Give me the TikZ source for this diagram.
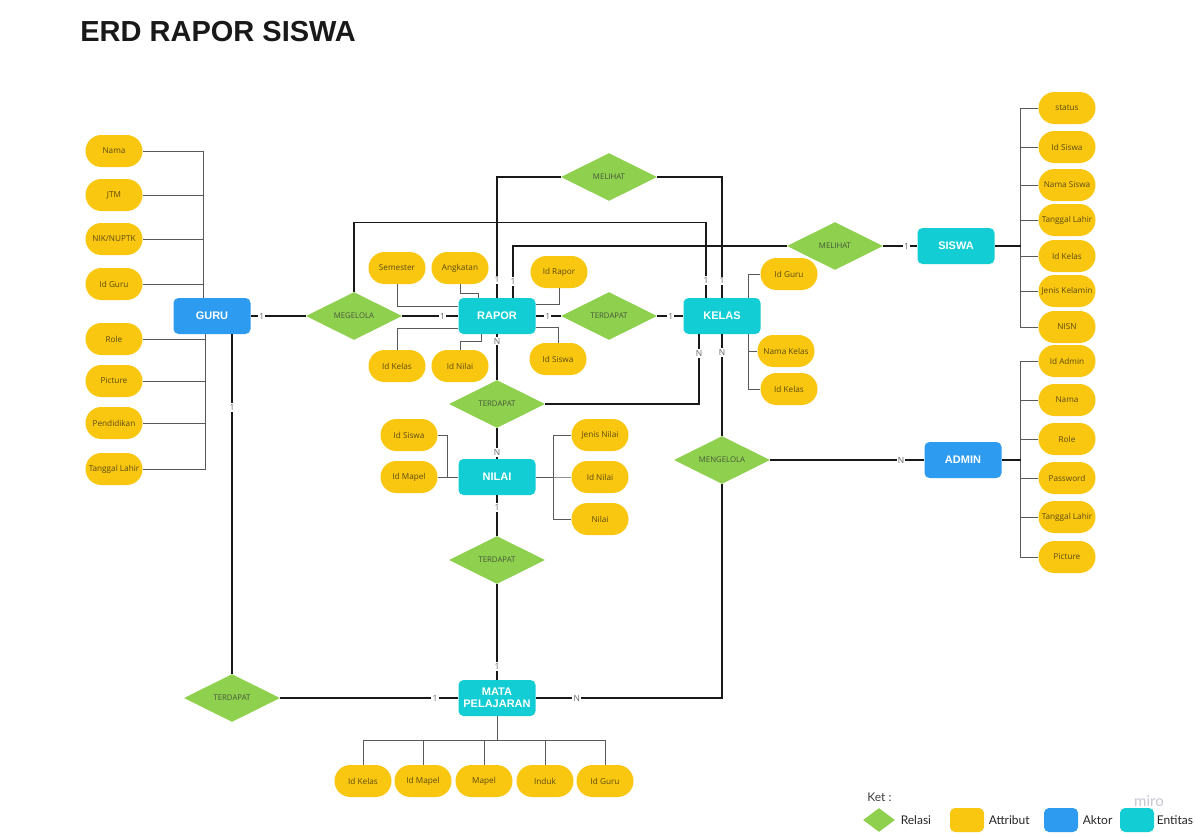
\documentclass[tikz,border=0pt]{standalone}
\usepackage{fontspec}
\setmainfont{Open Sans}
\newfontfamily\headfont{Liberation Sans}
\newfontfamily\legfont{Lato}
\usepackage{tikz}
\tikzset{every picture/.style={line width=0.75pt}}
\usetikzlibrary{shapes.geometric, positioning, calc}

\definecolor{attrYellow}{HTML}{FAC710}
\definecolor{relGreen}{HTML}{8FD14F}
\definecolor{actBlue}{HTML}{2D9BF0}
\definecolor{entCyan}{HTML}{12CDD4}
\definecolor{attrText}{HTML}{5A4A16}
\definecolor{relText}{HTML}{44573A}
\definecolor{miroGray}{HTML}{C9C5D3}

\begin{document}
\begin{tikzpicture}[
	x=1pt, y=-1pt,
	attr/.style={rectangle, rounded corners=15.9pt, fill=attrYellow, minimum width=57pt, minimum height=32pt, inner sep=0pt, text=attrText, font=\fontsize{8.2}{9}\selectfont},
	entity/.style={rectangle, rounded corners=5pt, fill=entCyan, minimum width=77pt, minimum height=36pt, inner sep=0pt, align=center, text=white, font=\headfont\bfseries\fontsize{11}{12}\selectfont},
	actor/.style={entity, fill=actBlue},
	rel/.style={diamond, shape aspect=2, fill=relGreen, minimum width=96pt, minimum height=48pt, inner sep=0pt, text=relText, font=\fontsize{7.8}{8}\selectfont},
	link/.style={draw=black!90, line width=1.6pt},
	attrline/.style={draw=black!65, line width=1pt},
	card/.style={fill=white, inner sep=1.2pt, text=black!60, font=\fontsize{8.5}{9}\selectfont},
	legbox/.style={rectangle, rounded corners=5pt, minimum width=34pt, minimum height=24pt, inner sep=0pt},
	legtext/.style={anchor=west, inner sep=0pt, text=black!85, font=\legfont\fontsize{12}{13}\selectfont}
	]
	
	\fill[white] (0,0) rectangle (1195,836);
	\useasboundingbox (0,0) rectangle (1195,836);
	
	% --- TITLE ---
	\node[anchor=west, inner sep=0pt, font=\headfont\bfseries\fontsize{29}{30}\selectfont, text=black!90] (title) at (80,32) {ERD RAPOR SISWA};
	
	% --- ENTITIES ---
	\node[actor] (guru) at (212,316) {GURU};
	\node[entity] (rapor) at (497,316) {RAPOR};
	\node[entity] (kelas) at (722,316) {KELAS};
	\node[entity] (siswa) at (956,246) {SISWA};
	\node[actor] (admin) at (963,460) {ADMIN};
	\node[entity] (nilai) at (497,477) {NILAI};
	\node[entity] (mapel) at (497,698) {MATA\\[0pt]PELAJARAN};
	
	% --- RELATIONS ---
	\node[rel] (melihatA) at (609,177) {MELIHAT};
	\node[rel] (melihatB) at (835,246) {MELIHAT};
	\node[rel] (megelola) at (354,316) {MEGELOLA};
	\node[rel] (terdapatA) at (609,316) {TERDAPAT};
	\node[rel] (terdapatB) at (497,404) {TERDAPAT};
	\node[rel] (terdapatC) at (497,560) {TERDAPAT};
	\node[rel] (terdapatD) at (232,698) {TERDAPAT};
	\node[rel] (mengelola) at (722,460) {MENGELOLA};
	
	% --- RELATION LINKS ---
	\draw[link] (guru) -- (megelola) node[card, pos=0.2] {1};
	\draw[link] (megelola) -- (rapor) node[card, pos=0.72] {1};
	\draw[link] (rapor) -- (terdapatA) node[card, pos=0.48] {1};
	\draw[link] (terdapatA) -- (kelas) node[card, pos=0.52] {1};
	\draw[link] (melihatA.west) -| (rapor.north) node[card, pos=0.926] {1};
	\draw[link] (melihatA.east) -| (kelas.north) node[card, pos=0.93] {1};
	\draw[link] (megelola.north) -- ++(0,-69) -| ([xshift=-16pt]kelas.north) node[card, pos=0.887] {1};
	\draw[link] ([xshift=16pt]rapor.north) |- (melihatB.west) node[card, pos=0.154] {1};
	\draw[link] (melihatB) -- (siswa) node[card, pos=0.69] {1};
	\draw[link] (rapor) -- (terdapatB) node[card, pos=0.15] {N};
	\draw[link] (terdapatB.east) -| ([xshift=-23pt]kelas.south) node[card, pos=0.864] {N};
	\draw[link] (terdapatB) -- (nilai) node[card, pos=0.8] {N};
	\draw[link] (nilai) -- (terdapatC) node[card, pos=0.3] {1};
	\draw[link] (terdapatC) -- (mapel) node[card, pos=0.86] {1};
	\draw[link] (terdapatD.north) -- (terdapatD.north |- guru.south) node[card, pos=0.785] {1};
	\draw[link] (terdapatD) -- (mapel) node[card, pos=0.87] {1};
	\draw[link] (mapel.east) -| (mengelola.south) node[card, pos=0.11] {N};
	\draw[link] (mengelola) -- (kelas) node[card, pos=0.82] {N};
	\draw[link] (mengelola) -- (admin) node[card, pos=0.85] {N};
	
	% --- GURU attributes ---
	\foreach \y/\t/\n in {151/Nama/gNama, 195/JTM/gJtm, 239/{NIK/NUPTK}/gNik, 284/Id Guru/gId} {
		\node[attr] (\n) at (114,\y) {\t};
		\draw[attrline] (\n.east) -| ([xshift=-9pt]guru.north);
	}
	\foreach \y/\t/\n in {339/Role/gRole, 381/Picture/gPic, 423/Pendidikan/gPend, 469/Tanggal Lahir/gTgl} {
		\node[attr] (\n) at (114,\y) {\t};
		\draw[attrline] (\n.east) -| ([xshift=-7pt]guru.south);
	}
	
	% --- RAPOR attributes ---
	\node[attr] (rSem) at (397,268) {Semester};
	\node[attr] (rAngk) at (460,268) {Angkatan};
	\node[attr] (rId) at (559,272) {Id Rapor};
	\node[attr] (rKelas) at (397,366) {Id Kelas};
	\node[attr] (rNilai) at (460,366) {Id Nilai};
	\node[attr] (rSiswa) at (558,359) {Id Siswa};
	\draw[attrline] (rSem.south) |- ([yshift=10pt]rapor.west);
	\draw[attrline] (rAngk.south) -- ++(0,9) -| ([xshift=-19pt]rapor.north);
	\draw[attrline] (rId.south) |- ([yshift=12pt]rapor.east);
	\draw[attrline] (rKelas.north) |- ([yshift=-12pt]rapor.west);
	\draw[attrline] (rNilai.north) -- ++(0,-8) -| ([xshift=-16pt]rapor.south);
	\draw[attrline] (rSiswa.north) |- ([yshift=-11pt]rapor.east);
	
	% --- KELAS attributes ---
	\node[attr] (kGuru) at (789,274) {Id Guru};
	\node[attr] (kNama) at (786,351) {Nama Kelas};
	\node[attr] (kId) at (789,389) {Id Kelas};
	\draw[attrline] (kGuru.west) -| ([xshift=26pt]kelas.north);
	\draw[attrline] (kNama.west) -| ([xshift=26pt]kelas.south);
	\draw[attrline] (kId.west) -| ([xshift=26pt]kelas.south);
	
	% --- SISWA attributes ---
	\foreach \y/\t/\n in {108/status/sStat, 147/Id Siswa/sId, 185/Nama Siswa/sNama, 220/Tanggal Lahir/sTgl, 256/Id Kelas/sKelas, 291/Jenis Kelamin/sJk, 327/NISN/sNisn} {
		\node[attr] (\n) at (1067,\y) {\t};
		\draw[attrline] (\n.west) -- ++(-18,0) |- (siswa.east);
	}
	\draw[link, line width=1.2pt] (siswa.east) -- ++(26,0);
	
	% --- ADMIN attributes ---
	\foreach \y/\t/\n in {361/Id Admin/aId, 400/Nama/aNama, 439/Role/aRole, 478/Password/aPass, 517/Tanggal Lahir/aTgl, 557/Picture/aPic} {
		\node[attr] (\n) at (1067,\y) {\t};
		\draw[attrline] (\n.west) -- ++(-18,0) |- (admin.east);
	}
	\draw[link, line width=1.2pt] (admin.east) -- ++(19,0);
	
	% --- NILAI attributes ---
	\node[attr] (nSiswa) at (409,435) {Id Siswa};
	\node[attr] (nMapel) at (409,477) {Id Mapel};
	\node[attr] (nJenis) at (600,435) {Jenis Nilai};
	\node[attr] (nId) at (600,477) {Id Nilai};
	\node[attr] (nNilai) at (600,519) {Nilai};
	\draw[attrline] (nSiswa.east) -- ++(10,0) |- (nilai.west);
	\draw[attrline] (nMapel.east) -- (nilai.west);
	\foreach \n in {nJenis, nId, nNilai}
		\draw[attrline] (\n.west) -- ++(-18,0) |- (nilai.east);
	
	% --- MATA PELAJARAN attributes ---
	\foreach \x/\t/\n in {363/Id Kelas/mKelas, 423/Id Mapel/mId, 484/Mapel/mMapel, 545/Induk/mInduk, 605/Id Guru/mGuru} {
		\node[attr] (\n) at (\x,781) {\t};
		\draw[attrline] (\n.north) -- ++(0,-24) -| (mapel.south);
	}
	
	% --- LEGEND ---
	\node[legtext, text=black!75] (ket) at (867,797) {Ket :};
	\node[diamond, shape aspect=1.33, fill=relGreen, minimum width=32pt, minimum height=24pt, inner sep=0pt] (legRel) at (879,820) {};
	\node[legtext, right=5pt of legRel] (legRelT) {Relasi};
	\node[legbox, fill=attrYellow] (legAttr) at (967,820) {};
	\node[legtext, right=4pt of legAttr] (legAttrT) {Attribut};
	\node[legbox, fill=actBlue] (legAkt) at (1061,820) {};
	\node[legtext, right=4pt of legAkt] (legAktT) {Aktor};
	\node[legbox, fill=entCyan] (legEnt) at (1137,820) {};
	\node[legtext, right=2pt of legEnt] (legEntT) {Entitas};
	\node[text=miroGray, inner sep=0pt, font=\legfont\fontsize{15}{15}\selectfont] (miro) at (1149,801) {miro};
	
\end{tikzpicture}
\end{document}
